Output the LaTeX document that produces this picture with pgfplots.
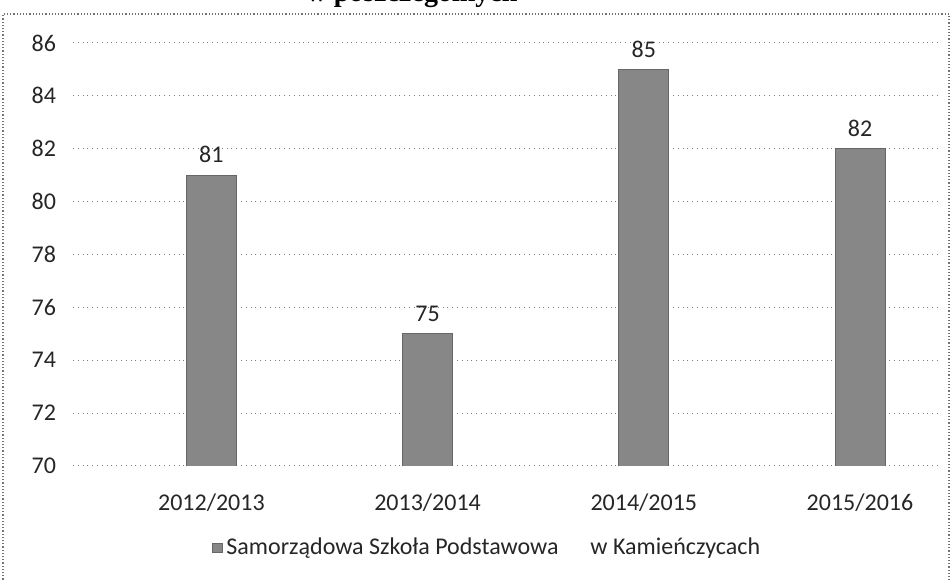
\documentclass[border=0pt]{standalone}
\usepackage{fontspec}
\setmainfont{Carlito}
\newfontfamily\titlefont{Liberation Serif}
\usepackage{pgfplots}
\pgfplotsset{compat=1.18}
\definecolor{barfill}{RGB}{135,135,135}
\definecolor{gridc}{RGB}{125,125,125}
\begin{document}
\begin{tikzpicture}
\useasboundingbox (0,0) rectangle (475.5pt,291pt);
\node[anchor=base,font=\titlefont\bfseries\fontsize{14}{17}\selectfont] at (206pt,290.4pt) {w poszczególnych};
\draw[densely dotted, black!55, line width=0.6pt] (1.5pt,-2pt) -- (1.5pt,284pt) -- (474.5pt,284pt) -- (474.5pt,-2pt);
\begin{axis}[
  at={(36.5pt,58pt)}, anchor=south west,
  scale only axis, width=433.5pt, height=211.5pt,
  ymin=70, ymax=86, ytick={70,72,...,86},
  xmin=-0.64, xmax=3.37,
  xtick={0,1,2,3},
  xticklabels={2012/2013,2013/2014,2014/2015,2015/2016},
  /pgf/number format/assume math mode=true,
  axis line style={draw=none},
  tick style={draw=none},
  ymajorgrids, major grid style={dotted, gridc, line width=0.5pt},
  ybar, bar width=25pt,
  font=\fontsize{12}{14}\selectfont,
  ticklabel style={font=\fontsize{12}{14}\selectfont, black!85},
  yticklabel style={xshift=-5pt},
  xticklabel style={yshift=-6pt},
  nodes near coords,
  every node near coord/.append style={font=\fontsize{12}{14}\selectfont, black!85, yshift=2.5pt},
  legend style={draw=none, at={(0.479,-0.194)}, anchor=center, font=\fontsize{12}{14}\selectfont, text=black!85},
  legend image code/.code={\fill[barfill, draw=black!60] (0pt,-2.4pt) rectangle (4.6pt,2.2pt);},
]
\addplot[fill=barfill, draw=black!60] coordinates {(0,81) (1,75) (2,85) (3,82)};
\addlegendentry{Samorządowa Szkoła Podstawowa\hspace{16pt}w Kamieńczycach}
\end{axis}
\end{tikzpicture}
\end{document}
